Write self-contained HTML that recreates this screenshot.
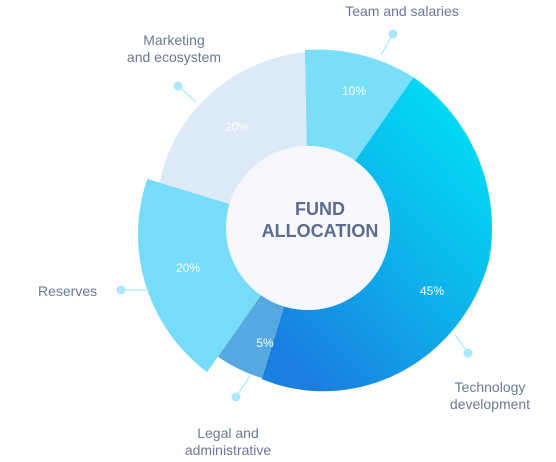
<!DOCTYPE html>
<html><head><meta charset="utf-8"><style>
body{margin:0;background:#fff;width:556px;height:457px;overflow:hidden;font-family:"Liberation Sans",sans-serif}
svg text{font-family:"Liberation Sans",sans-serif}
</style></head><body>
<svg id="chart" width="556" height="457" viewBox="0 0 556 457" xmlns="http://www.w3.org/2000/svg">
<defs>
<linearGradient id="techGrad" x1="0.9" y1="0.05" x2="0.2" y2="0.95">
<stop offset="0" stop-color="#00e0f7"/><stop offset="0.5" stop-color="#0db4ec"/><stop offset="1" stop-color="#1a7fe0"/>
</linearGradient>
</defs>
<g id="slices"></g>
<circle cx="308" cy="228" r="82" fill="#f6f8fd"/>
<text x="320" y="215" text-anchor="middle" font-size="18" font-weight="bold" fill="#5d6b8c">FUND</text>
<text x="320" y="237" text-anchor="middle" font-size="18" font-weight="bold" fill="#5d6b8c">ALLOCATION</text>
<g id="labels" fill="#6b7893" font-size="14"></g>
</svg>
<script>
const categories=["Team and salaries","Technology development","Legal and administrative","Reserves","Marketing and ecosystem"];
const values=[10,45,5,20,20];
const pctLabels=["10%","45%","5%","20%","20%"];
const cx=308,cy=228,rIn=82,startAngle=-1;
const colors=["#7bdef9","url(#techGrad)","#55a8e0","#76dcfa","#dceaf7"];
const radFn=[
 t=>178+6*t,
 t=>{return t<0.4?184:184-26*((t-0.4)/0.6);},
 t=>157,
 t=>176-8*t,
 t=>155+21*t
];
const labelPos=[[354,95],[432,295],[265,347],[188,272],[237,131]];
const texts=[
 {lines:["Team and salaries"],x:402,y:16,anchor:"middle",dot:[393,34],end:[381,55]},
 {lines:["Technology","development"],x:490,y:392,anchor:"middle",dot:[468,353],end:[455,335]},
 {lines:["Legal and","administrative"],x:228,y:438,anchor:"middle",dot:[236,397],end:[250,376]},
 {lines:["Reserves"],x:38,y:296,anchor:"start",dot:[121,290],end:[150,290]},
 {lines:["Marketing","and ecosystem"],x:174,y:45,anchor:"middle",dot:[178,86],end:[196,102]}
];
const NS="http://www.w3.org/2000/svg";
const total=values.reduce((a,b)=>a+b,0);
function pt(angDeg,r){const a=(angDeg-90)*Math.PI/180;return [cx+r*Math.cos(a),cy+r*Math.sin(a)];}
let ang=startAngle;
const g=document.getElementById('slices');
values.forEach((v,i)=>{
 const span=v/total*360,a0=ang,a1=ang+span;
 let d="";const N=60;
 for(let k=0;k<=N;k++){const t=k/N;const p=pt(a0+span*t,radFn[i](t));d+=(k?"L":"M")+p[0].toFixed(2)+","+p[1].toFixed(2);}
 for(let k=N;k>=0;k--){const p=pt(a0+span*k/N,rIn);d+="L"+p[0].toFixed(2)+","+p[1].toFixed(2);}
 d+="Z";
 const path=document.createElementNS(NS,'path');
 path.setAttribute('d',d);path.setAttribute('fill',colors[i]);
 
 
 g.appendChild(path);
 const tl=document.createElementNS(NS,'text');
 tl.setAttribute('x',labelPos[i][0]);tl.setAttribute('y',labelPos[i][1]);
 tl.setAttribute('text-anchor','middle');tl.setAttribute('font-size','12');tl.setAttribute('fill','#fff');
 tl.textContent=pctLabels[i];
 
 
 g.appendChild(tl);
 ang=a1;
});
const lg=document.getElementById('labels');
texts.forEach((t,i)=>{
 const ln=document.createElementNS(NS,'line');
 ln.setAttribute('x1',t.dot[0]);ln.setAttribute('y1',t.dot[1]);ln.setAttribute('x2',t.end[0]);ln.setAttribute('y2',t.end[1]);
 ln.setAttribute('stroke','#a9e9fa');ln.setAttribute('stroke-width','1.2');
 
 
 lg.appendChild(ln);
 const c=document.createElementNS(NS,'circle');
 c.setAttribute('cx',t.dot[0]);c.setAttribute('cy',t.dot[1]);c.setAttribute('r','4.5');c.setAttribute('fill','#a9e9fa');
 
 
 lg.appendChild(c);
 t.lines.forEach((s,j)=>{
  const tx=document.createElementNS(NS,'text');
  tx.setAttribute('x',t.x);tx.setAttribute('y',t.y+j*17);tx.setAttribute('text-anchor',t.anchor);
  tx.textContent=s;
  
  
  lg.appendChild(tx);
 });
});
</script>
</body></html>
